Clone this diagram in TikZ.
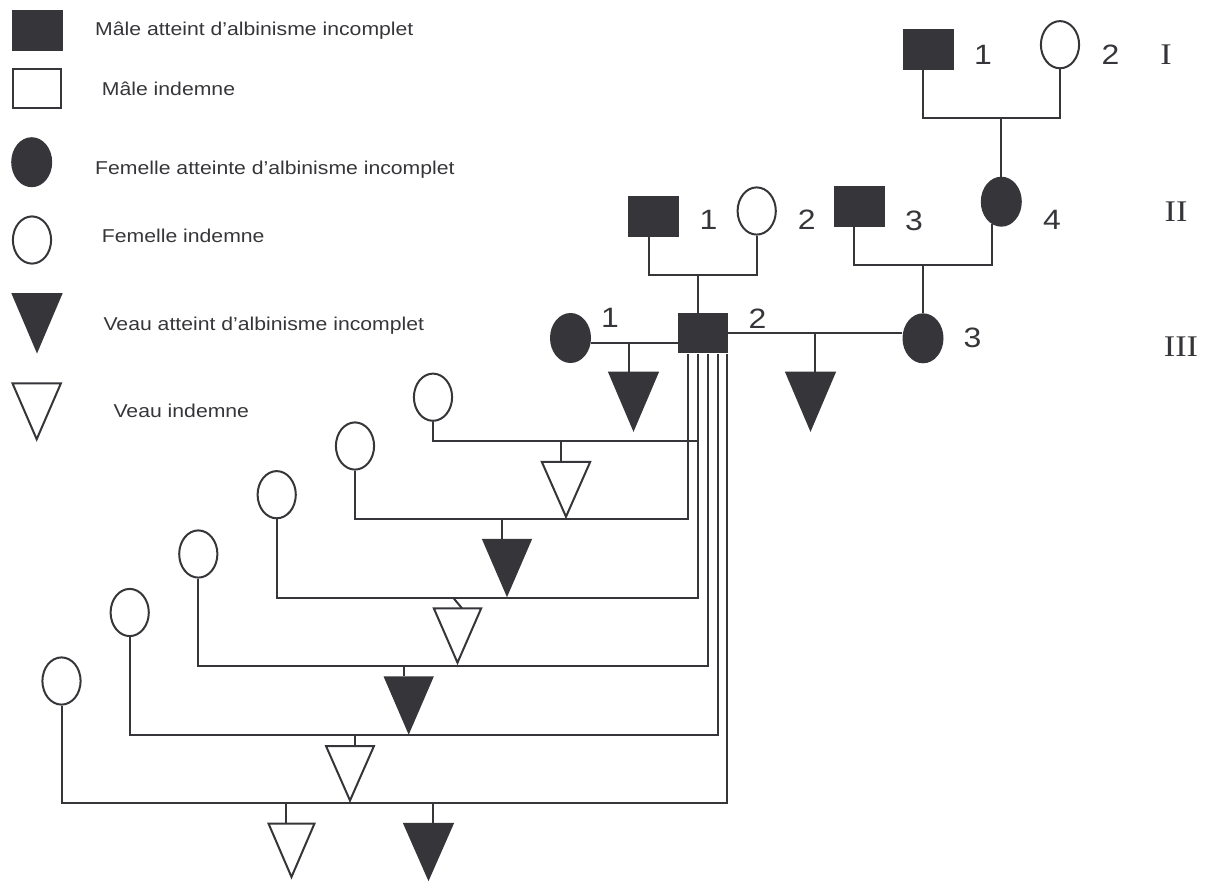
\documentclass[tikz,border=0pt]{standalone}
\usepackage{fontspec}
\setmainfont{Liberation Sans}[FakeStretch=1.14]
\newfontfamily\romfont{Liberation Serif}[FakeStretch=1.14]
\usetikzlibrary{shapes.geometric}
\definecolor{ink}{RGB}{54,53,57}
\tikzset{
  con/.style={draw=ink, line width=2pt},
  maleA/.style={rectangle, fill=ink, minimum width=51pt, minimum height=41pt, inner sep=0pt},
  maleU/.style={rectangle, draw=ink, line width=2pt, fill=white, minimum width=48pt, minimum height=39pt, inner sep=0pt},
  femA/.style={ellipse, fill=ink, minimum width=41pt, minimum height=50pt, inner sep=0pt},
  femU/.style={ellipse, draw=ink, line width=2pt, fill=white, minimum width=38.2pt, minimum height=47.2pt, inner sep=0pt},
  calfbox/.style={rectangle, inner sep=0pt, minimum width=50pt, minimum height=58pt},
  afill/.style={fill=ink},
  ufill/.style={draw=ink, fill=white, line width=2pt, line join=miter},
  legtext/.style={anchor=base west, inner sep=0pt, text=ink, font=\fontsize{18.6}{20}\selectfont},
  lab/.style={inner sep=0pt, text=ink, font=\fontsize{28}{30}\selectfont},
  rom/.style={inner sep=0pt, text=ink, font=\romfont\fontsize{30}{32}\selectfont},
}
\newcommand{\calf}[4][]{%
  \node[calfbox,#1] (#2) at (#3) {};
  \path[#4] (#2.north west) -- (#2.north east) -- (#2.south) -- cycle;}
\begin{document}
\begin{tikzpicture}[x=1pt, y=-1pt]
\useasboundingbox (0,0) rectangle (1205,881);

% ---------- legend ----------
\node[maleA] (lg1) at (37,30) {};
\node[maleU] (lg2) at (36.7,88.7) {};
\node[femA] (lg3) at (31.7,162.2) {};
\node[femU] (lg4) at (32,240) {};
\calf[minimum width=51pt, minimum height=60pt]{lg5}{37,323.3}{afill}
\calf[minimum width=48pt, minimum height=55.5pt]{lg6}{36.7,411.3}{ufill}
\node[legtext] (t1) at (95,35.7) {Mâle atteint d’albinisme incomplet};
\node[legtext] (t2) at (101.7,95) {Mâle indemne};
\node[legtext] (t3) at (95,174) {Femelle atteinte d’albinisme incomplet};
\node[legtext] (t4) at (101.7,242.7) {Femelle indemne};
\node[legtext] (t5) at (103.3,330.5) {Veau atteint d’albinisme incomplet};
\node[legtext] (t6) at (113.3,417.3) {Veau indemne};

% ---------- generation I ----------
\node[maleA] (I1) at (928,49.5) {};
\node[femU] (I2) at (1060,44.7) {};
\node[lab] (nI1) at (983,55) {1};
\node[lab] (nI2) at (1110.5,55) {2};
\node[rom] (gI) at (1166,55) {I};

% ---------- generation II ----------
\node[maleA] (II1) at (653.7,216) {};
\node[femU] (II2) at (756.7,211) {};
\node[maleA] (II3) at (859.7,206.2) {};
\node[femA] (II4) at (1001.3,201.7) {};
\node[lab] (nII1) at (708.5,220) {1};
\node[lab] (nII2) at (806.7,220) {2};
\node[lab] (nII3) at (914,221) {3};
\node[lab] (nII4) at (1052,220) {4};
\node[rom] (gII) at (1176,211.7) {II};

% ---------- generation III ----------
\node[femA] (III1) at (570.5,338) {};
\node[maleA, minimum width=50pt, minimum height=40pt] (III2) at (702.7,333.3) {};
\node[femA] (III3) at (923,338.3) {};
\node[lab] (nIII1) at (610,318) {1};
\node[lab] (nIII2) at (757.5,318.5) {2};
\node[lab] (nIII3) at (972.5,338) {3};
\node[rom] (gIII) at (1181,347) {III};

% matings I
\coordinate (mI) at (1001.3,118);
\draw[con] ([xshift=-5.3pt]I1.south) |- (I2.south |- mI) -- (I2.south);
\draw[con] (mI) -- (II4.north);

% matings II
\coordinate (mII1) at (697.7,275);
\draw[con] ([xshift=-4.7pt]II1.south) |- (II2.south |- mII1) -- (II2.south);
\draw[con] (mII1) -- (mII1 |- III2.north);
\coordinate (mII2) at (923,265);
\coordinate (ii4) at (991.7,224);
\draw[con] ([xshift=-5.4pt]II3.south) |- (ii4 |- mII2) -- (ii4);
\draw[con] (mII2) -- (III3.north);

% matings III
\coordinate (m31) at (629,342.7);
\draw[con] (III1.east |- m31) -- (III2.west |- m31);
\calf[minimum width=51pt, minimum height=60pt]{T1}{633.5,401.7}{afill}
\draw[con] (m31) -- (m31 |- T1.north);
\coordinate (m32) at (815,333.3);
\draw[con] (III2.east) -- (III3.west |- III2.east);
\calf[minimum width=51pt, minimum height=60pt]{T2}{810.5,401.7}{afill}
\draw[con] (m32) -- (m32 |- T2.north);

% ---------- other females mated with III-2 ----------
\node[femU] (Fa) at (433,397.2) {};
\node[femU] (Fb) at (355,446) {};
\node[femU] (Fc) at (276.7,494.7) {};
\node[femU] (Fd) at (198.3,554) {};
\node[femU] (Fe) at (129.7,612.5) {};
\node[femU] (Ff) at (61.5,681) {};

% a
\coordinate (ma) at (697.7,440.7);
\draw[con] (Fa.south) |- (ma);
\calf[minimum width=48pt, minimum height=54.5pt]{Ta}{566,489.3}{ufill}
\coordinate (da) at (561,440.7);
\draw[con] (da) -- (da |- Ta.north);

% b
\coordinate (mb) at (688,519.3);
\draw[con] (Fb.south) |- (mb) -- (mb |- III2.south);
\calf{Tb}{507,568}{afill}
\coordinate (db) at (501.7,519.3);
\draw[con] (db) -- (db |- Tb.north);

% c
\coordinate (mc) at (697.7,597.5);
\draw[con] (Fc.south) |- (mc) -- (mc |- III2.south);
\calf[minimum width=47pt, minimum height=54pt]{Tc}{457.5,635.5}{ufill}
\coordinate (dc) at (453,597.5);
\draw[con] (dc) -- ([xshift=4.5pt]Tc.north);

% d
\coordinate (md) at (707.7,666);
\draw[con] (Fd.south) |- (md) -- (md |- III2.south);
\calf{Td}{408.7,705.5}{afill}
\coordinate (dd) at (404,666);
\draw[con] (dd) -- (dd |- Td.north);

% e
\coordinate (me) at (717.7,735);
\draw[con] (Fe.south) |- (me) -- (me |- III2.south);
\calf[minimum width=47.5pt, minimum height=54pt]{Te}{350,773.3}{ufill}
\coordinate (de) at (355,735);
\draw[con] (de) -- (de |- Te.north);

% f
\coordinate (mf) at (727.3,803);
\draw[con] (Ff.south) |- (mf) -- (mf |- III2.south);
\calf[minimum width=45.5pt, minimum height=53pt]{Tf1}{291.5,850.3}{ufill}
\coordinate (df1) at (286,803);
\draw[con] (df1) -- (df1 |- Tf1.north);
\calf[minimum width=51pt, minimum height=58pt]{Tf2}{428.5,852}{afill}
\coordinate (df2) at (433,803);
\draw[con] (df2) -- (df2 |- Tf2.north);

\end{tikzpicture}
\end{document}
